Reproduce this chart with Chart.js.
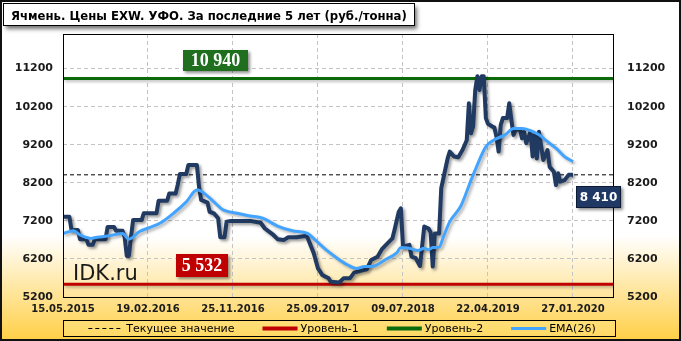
<!DOCTYPE html>
<html><head><meta charset="utf-8">
<script src="https://cdn.jsdelivr.net/npm/chart.js@4.4.0/dist/chart.umd.min.js"></script>
<style>html,body{margin:0;padding:0;background:#fff;}#wrap{width:681px;height:341px;position:relative}</style>
</head><body><div id="wrap"><canvas id="c" width="681" height="341"></canvas></div>
<script>
const chartTitle = 'Ячмень. Цены EXW. УФО. За последние 5 лет (руб./тонна)';
const dateLabels = ['15.05.2015','19.02.2016','25.11.2016','25.09.2017','09.07.2018','22.04.2019','27.01.2020'];
const dateTickWeeks = [0,40,80,120,160,200,240];
const yTicks = [5200,6200,7200,8200,9200,10200,11200];
const priceWeeks = [0,3,4,7,8,11,12,14,15,20,21,24,25,28,29,30,31,32,33,37,38,44,45,49,50,53,54,55,58,59,63,64,65,68,69,71,73,74,76,77,79,88,93,95,99,101,104,106,110,114,115,118,120,122,125,126,130,132,135,137,140,143,145,148,150,152,155,156,158,159,160,163,164,166,168,170,172,173,174,175,177,178,179,181,182,184,186,188,190,191,192,193,194,195,196,197,198,199,200,202,203,204,205,206,207,209,210,211,212,213,215,216,217,218,220,221,222,223,224,226,228,229,231,232,233,234,236,238,240];
const priceValues = [7310,7310,6960,6960,6720,6720,6570,6570,6720,6720,7040,7040,6940,6940,6780,6280,6280,6780,7220,7220,7400,7400,7730,7730,7920,7920,8150,8430,8430,8670,8670,8100,7750,7680,7440,7400,7270,6770,6770,7180,7200,7200,7150,7000,6830,6720,6700,6770,6770,6800,6770,6350,5950,5780,5690,5600,5580,5690,5690,5840,5890,5930,6170,6260,6450,6570,6740,6960,7440,7530,6520,6570,6260,6220,6015,7050,7000,6900,6000,6870,6870,8060,8320,8840,9020,8890,8870,9060,9320,10290,9500,9680,10640,11000,10640,11000,11000,9900,9750,9680,9650,9410,9020,9720,9900,9900,10290,9850,9460,9590,9610,9370,9540,9240,9540,8890,9460,8840,9540,8800,9060,8620,8490,8140,8450,8230,8270,8410,8410];
const emaWeeks = [0,5,8,13,16,21,28,31,36,41,46,52,58,63,65,71,75,82,88,94,101,108,115,119,124,129,134,138,142,146,152,157,159,163,167,170,172,174,177,179,182,187,190,192,194,199,203,208,212,216,220,224,228,232,236,240];
const emaValues = [6870,6940,6830,6740,6770,6800,6870,6720,6920,7030,7150,7400,7700,8010,7980,7700,7500,7400,7330,7270,7065,6940,6870,6680,6430,6220,6040,5950,6000,6010,6190,6360,6500,6480,6420,6480,6440,6500,6510,6780,7180,7570,7970,8270,8540,9150,9330,9460,9630,9630,9570,9460,9280,9110,8890,8760];
const currentValue = 8410;
const level1 = 5532;
const level2 = 10940;
const seriesNames = ['Цена','EMA(26)','Текущее значение','Уровень-1','Уровень-2'];
const weekMax = 259.3;
const yMin = 5200, yMax = 12110;

function pts(xs, ys){ return xs.map((x,i)=>({x:x, y:ys[i]})); }
function flat(v){ return [{x:0,y:v},{x:weekMax,y:v}]; }
function fmt(v){ return String(v).replace(/\B(?=(\d{3})+(?!\d))/g,' '); }

const bgPlugin = {
  id:'bg',
  beforeDraw(chart){
    const ctx = chart.ctx, W = chart.width, H = chart.height, a = chart.chartArea;
    ctx.save();
    let g = ctx.createLinearGradient(0,0,0,H);
    g.addColorStop(0,'#ffffff'); g.addColorStop(0.69,'#ffffff'); g.addColorStop(1,'#ffcf45');
    ctx.fillStyle = g; ctx.fillRect(0,0,W,H);
    let g2 = ctx.createLinearGradient(0,a.top,0,a.bottom);
    g2.addColorStop(0,'#ffffff'); g2.addColorStop(0.77,'#ffffff'); g2.addColorStop(1,'#ffe49a');
    ctx.fillStyle = g2; ctx.fillRect(a.left,a.top,a.right-a.left,a.bottom-a.top);
    // title box
    ctx.save();
    ctx.shadowColor = 'rgba(0,0,0,0.55)'; ctx.shadowBlur = 4; ctx.shadowOffsetX = 2; ctx.shadowOffsetY = 3;
    ctx.fillStyle = '#ffffff'; ctx.fillRect(3.5,3.5,411,22);
    ctx.restore();
    ctx.strokeStyle = '#000'; ctx.lineWidth = 1; ctx.strokeRect(3.5,3.5,411,22);
    let fs = 13;
    ctx.font = 'bold ' + fs + 'px "DejaVu Sans"';
    const w = ctx.measureText(chartTitle).width;
    fs = fs * 396 / w;
    ctx.font = 'bold ' + fs.toFixed(2) + 'px "DejaVu Sans"';
    ctx.fillStyle = '#000'; ctx.textBaseline = 'alphabetic'; ctx.textAlign = 'left';
    ctx.fillText(chartTitle, 11, 19.5);
    ctx.restore();
  },
  beforeDatasetsDraw(chart){
    const ctx = chart.ctx, a = chart.chartArea;
    ctx.save();
    ctx.font = '21px "DejaVu Sans"'; ctx.fillStyle = '#1a1a1a'; ctx.textBaseline='alphabetic';
    ctx.fillText('IDK.ru', a.left + 10, chart.scales.y.getPixelForValue(level1) - 4);
    ctx.restore();
  },
  afterDatasetsDraw(chart){
    const ctx = chart.ctx, a = chart.chartArea, ys = chart.scales.y, xs = chart.scales.x;
    ctx.save();
    ctx.strokeStyle = '#000'; ctx.lineWidth = 1;
    ctx.strokeRect(a.left+0.5, a.top+0.5, a.right-a.left-1, a.bottom-a.top);
    function tag(text, cx, cy, bg, font, w, h, border){
      ctx.save();
      ctx.shadowColor='rgba(0,0,0,0.45)'; ctx.shadowBlur=3; ctx.shadowOffsetX=2; ctx.shadowOffsetY=2;
      ctx.fillStyle = bg; ctx.fillRect(Math.round(cx-w/2), Math.round(cy-h/2), w, h);
      ctx.restore();
      if (border){ ctx.strokeStyle = border; ctx.lineWidth=1; ctx.strokeRect(Math.round(cx-w/2)+0.5, Math.round(cy-h/2)+0.5, w-1, h-1); }
      ctx.font = font; ctx.fillStyle='#fff'; ctx.textAlign='center'; ctx.textBaseline='middle';
      ctx.fillText(text, cx, cy+1);
    }
    tag(fmt(level2), a.left+152.5, ys.getPixelForValue(level2)-18, '#1f6f1f', 'bold 18px "Liberation Serif"', 65, 21);
    tag(fmt(level1), a.left+139, ys.getPixelForValue(level1)-19, '#c00000', 'bold 18px "Liberation Serif"', 52, 23);
    tag(fmt(currentValue), xs.getPixelForValue(dateTickWeeks[dateTickWeeks.length-1])+25.5, ys.getPixelForValue(currentValue)+22, '#1f3864', 'bold 12px "DejaVu Sans"', 45, 22, '#0d1a33');
    ctx.restore();
  },
  afterDraw(chart){
    const ctx = chart.ctx, W = chart.width, H = chart.height;
    ctx.save();
    // legend box
    const bx = 63, by = 320, bw = 552, bh = 16;
    ctx.fillStyle = 'rgba(255,236,150,0.35)'; ctx.fillRect(bx,by,bw,bh);
    ctx.strokeStyle = '#000'; ctx.lineWidth = 1; ctx.strokeRect(bx+0.5,by+0.5,bw,bh);
    const items = chart.data.datasets.filter(d=>d.legendOrder).sort((p,q)=>p.legendOrder-q.legendOrder);
    ctx.font = '11px "DejaVu Sans"'; ctx.textBaseline='middle'; ctx.textAlign='left';
    const lineW = 35, tgap = 3, igap = 28;
    let total = 0;
    items.forEach((d,i)=>{ total += lineW + tgap + ctx.measureText(d.label).width + (i? igap:0); });
    let x = bx + bw/2 - total/2 + 3;
    const cy = by + bh/2 + 0.5;
    items.forEach(d=>{
      ctx.save();
      ctx.strokeStyle = d.borderColor; ctx.lineWidth = d.legendLineWidth || d.borderWidth;
      ctx.setLineDash(d.borderDash || []);
      ctx.beginPath(); ctx.moveTo(x, cy); ctx.lineTo(x+lineW, cy); ctx.stroke();
      ctx.restore();
      ctx.fillStyle = '#000';
      ctx.fillText(d.label, x + lineW + tgap, cy+0.5);
      x += lineW + tgap + ctx.measureText(d.label).width + igap;
    });
    // outer border
    ctx.strokeStyle = '#111'; ctx.lineWidth = 2; ctx.strokeRect(1,1,W-2,H-2);
    ctx.restore();
  }
};

const shadowPlugin = {
  id:'shadow',
  beforeDatasetDraw(chart, args){
    const d = chart.data.datasets[args.index];
    if (d.shadow){ const ctx = chart.ctx; ctx.save(); ctx.shadowColor = d.shadow; ctx.shadowBlur = 3; ctx.shadowOffsetX = 2; ctx.shadowOffsetY = 2; }
  },
  afterDatasetDraw(chart, args){
    if (chart.data.datasets[args.index].shadow) chart.ctx.restore();
  }
};

const tickFont = {family:'"DejaVu Sans"', size:11, weight:'bold'};
const plainNum = (v)=>String(v);
new Chart(document.getElementById('c'), {
  type:'line',
  data:{ datasets:[
    {label:seriesNames[1], data:pts(emaWeeks, emaValues), borderColor:'#42a4ff', borderWidth:3, pointRadius:0, cubicInterpolationMode:'monotone', shadow:'rgba(0,0,0,0.3)', legendOrder:4},
    {label:seriesNames[0], data:pts(priceWeeks, priceValues), borderColor:'#203a62', borderWidth:4, pointRadius:0, tension:0, borderJoinStyle:'round', shadow:'rgba(0,0,0,0.4)'},
    {label:seriesNames[2], data:flat(currentValue), borderColor:'#000', borderWidth:1, borderDash:[4,3], pointRadius:0, legendOrder:1},
    {label:seriesNames[3], data:flat(level1), borderColor:'#c00000', borderWidth:3, pointRadius:0, shadow:'rgba(0,0,0,0.25)', legendOrder:2, legendLineWidth:4},
    {label:seriesNames[4], data:flat(level2), borderColor:'#0b6b0b', borderWidth:3, pointRadius:0, shadow:'rgba(0,0,0,0.25)', legendOrder:3, legendLineWidth:4}
  ]},
  options:{
    responsive:false, animation:false, devicePixelRatio:1,
    layout:{padding:{top:34, bottom:24, left:0, right:0}},
    plugins:{legend:{display:false}, title:{display:false}, tooltip:{enabled:false}},
    scales:{
      x:{type:'linear', min:0, max:weekMax,
         afterBuildTicks:(s)=>{ s.ticks = dateTickWeeks.map(v=>({value:v})); },
         afterFit:(s)=>{ s.height = 20; },
         ticks:{autoSkip:false, maxRotation:0, padding:6, color:'#1a1a1a', font:{family:'"DejaVu Sans"', size:10, weight:'bold'},
                callback:(v)=>{ const i = dateTickWeeks.indexOf(v); return i>=0 ? dateLabels[i] : ''; }},
         grid:{color:'#c4c4c4', lineWidth:1, drawTicks:false}, border:{display:false, dash:[4,3]}},
      y:{type:'linear', position:'left', min:yMin, max:yMax,
         afterBuildTicks:(s)=>{ s.ticks = yTicks.map(v=>({value:v})); },
         afterFit:(s)=>{ s.width = 63; },
         ticks:{padding:10, color:'#1a1a1a', font:tickFont, callback:plainNum},
         grid:{color:'#c4c4c4', lineWidth:1, drawTicks:false}, border:{display:false, dash:[4,3]}},
      y2:{type:'linear', position:'right', min:yMin, max:yMax,
         afterBuildTicks:(s)=>{ s.ticks = yTicks.map(v=>({value:v})); },
         afterFit:(s)=>{ s.width = 67; },
         ticks:{padding:13, color:'#1a1a1a', font:tickFont, callback:plainNum},
         grid:{display:false, drawTicks:false}, border:{display:false}}
    }
  },
  plugins:[bgPlugin, shadowPlugin]
});
</script>
</body></html>
